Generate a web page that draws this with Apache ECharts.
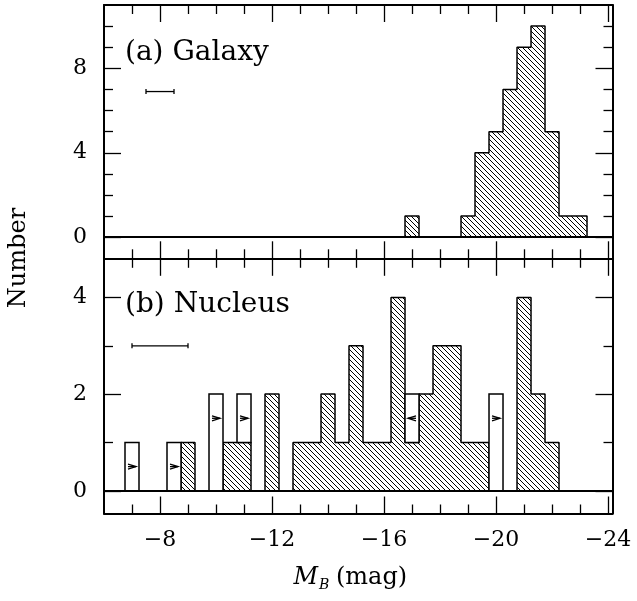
<!DOCTYPE html>
<html><head><meta charset="utf-8">
<script src="https://cdn.jsdelivr.net/npm/echarts@6/dist/echarts.min.js"></script>
<style>html,body{margin:0;padding:0;background:#fff}#c{width:637px;height:601px}</style>
</head><body><div id="c"></div>
<script>
// ---------- data ----------
const binWidth = 0.5;
// (a) Galaxy absolute magnitude histogram: bin centres (mag) and counts
const galaxyMag   = [-17.0, -19.0, -19.5, -20.0, -20.5, -21.0, -21.5, -22.0, -22.5, -23.0];
const galaxyCount = [1, 1, 4, 5, 7, 9, 10, 5, 1, 1];
// (b) Nucleus: detections (hatched) and lower limits (open)
const nucleusMag      = [-7.0, -8.5, -9.0, -10.0, -10.5, -11.0, -12.0, -13.0, -13.5, -14.0, -14.5, -15.0, -15.5, -16.0, -16.5, -17.0, -17.5, -18.0, -18.5, -19.0, -19.5, -20.0, -21.0, -21.5, -22.0];
const nucleusDetected = [0, 0, 1, 0, 1, 1, 2, 1, 1, 2, 1, 3, 1, 1, 4, 1, 2, 3, 3, 1, 1, 0, 4, 2, 1];
const nucleusLimit    = [1, 1, 0, 2, 0, 1, 0, 0, 0, 0, 0, 0, 0, 0, 0, 1, 0, 0, 0, 0, 0, 2, 0, 0, 0];
// limit arrows inside open bins
const arrowMag   = [-7.0, -8.5, -10.0, -11.0, -17.0, -20.0];
const arrowLevel = [0.5, 0.5, 1.5, 1.5, 1.5, 1.5];
const arrowDir   = ['>', '>', '>', '>', '<', '>'];
// typical error bars: [centre, half width, level]
const galaxyErr  = [-8, 0.5, 6.9];
const nucleusErr = [-8, 1.0, 3.0];
// ticks
const xMajorTicks = [-8, -12, -16, -20, -24];
const xMinorTicks = [-7, -9, -10, -11, -13, -14, -15, -17, -18, -19, -21, -22, -23];
const galaxyYMajor = [0, 4, 8];
const galaxyYMinor = [1, 2, 3, 5, 6, 7, 9, 10];
const nucleusYMajor = [0, 2, 4];
const nucleusYMinor = [1, 3];

// ---------- helpers ----------
const FONT = 'DejaVu Serif';
const X_MIN = -24.16, X_MAX = -6;

function hatchCanvas() {
  const c = document.createElement('canvas');
  c.width = 5; c.height = 5;
  const g = c.getContext('2d');
  g.fillStyle = '#000';
  for (let i = 0; i < 5; i++) g.fillRect(i, i, 1, 1);
  return c;
}
const HATCH = { image: hatchCanvas(), repeat: 'repeat' };

function xAxes(grid, labels) {
  const base = { type: 'value', gridIndex: grid, min: X_MIN, max: X_MAX, inverse: true, splitLine: { show: false } };
  const line = { show: true, onZero: false, lineStyle: { color: '#000', width: 2 } };
  const noLine = { show: false, onZero: false };
  const tickStyle = { color: '#000', width: 1.3 };
  const lab = labels ? { show: true, customValues: xMajorTicks, formatter: v => '\u2212' + Math.abs(v), margin: 16, fontFamily: FONT, fontSize: 22, color: '#000' } : { show: false };
  return [
    Object.assign({}, base, { position: 'bottom', axisLine: line, axisTick: { show: true, inside: true, length: 17, customValues: xMajorTicks, lineStyle: tickStyle }, axisLabel: lab }),
    Object.assign({}, base, { position: 'bottom', axisLine: noLine, axisTick: { show: true, inside: true, length: 9, customValues: xMinorTicks, lineStyle: tickStyle }, axisLabel: { show: false } }),
    Object.assign({}, base, { position: 'top', axisLine: line, axisTick: { show: true, inside: true, length: 17, customValues: xMajorTicks, lineStyle: tickStyle }, axisLabel: { show: false } }),
    Object.assign({}, base, { position: 'top', axisLine: noLine, axisTick: { show: true, inside: true, length: 9, customValues: xMinorTicks, lineStyle: tickStyle }, axisLabel: { show: false } })
  ];
}
function yAxes(grid, min, max, major, minor) {
  const base = { type: 'value', gridIndex: grid, min: min, max: max, splitLine: { show: false } };
  const line = { show: true, onZero: false, lineStyle: { color: '#000', width: 2 } };
  const noLine = { show: false, onZero: false };
  const tickStyle = { color: '#000', width: 1.3 };
  return [
    Object.assign({}, base, { position: 'left', axisLine: line, axisTick: { show: true, inside: true, length: 17, customValues: major, lineStyle: tickStyle }, axisLabel: { show: true, customValues: major, margin: 17, fontFamily: FONT, fontSize: 22, color: '#000' } }),
    Object.assign({}, base, { position: 'left', axisLine: noLine, axisTick: { show: true, inside: true, length: 9, customValues: minor, lineStyle: tickStyle }, axisLabel: { show: false } }),
    Object.assign({}, base, { position: 'right', axisLine: line, axisTick: { show: true, inside: true, length: 17, customValues: major, lineStyle: tickStyle }, axisLabel: { show: false } }),
    Object.assign({}, base, { position: 'right', axisLine: noLine, axisTick: { show: true, inside: true, length: 9, customValues: minor, lineStyle: tickStyle }, axisLabel: { show: false } })
  ];
}

function stepOutline(mags, counts) {
  const map = {};
  mags.forEach((m, i) => { map[m.toFixed(2)] = counts[i]; });
  const first = Math.max(...mags), last = Math.min(...mags);
  const pts = [[first + binWidth / 2, 0]];
  for (let c = first; c >= last - 1e-9; c -= binWidth) {
    const h = map[c.toFixed(2)] || 0;
    pts.push([c + binWidth / 2, h]);
  }
  pts.push([last - binWidth / 2, 0]);
  return pts;
}

function fillSeries(xi, yi, mags, counts) {
  return {
    type: 'custom', xAxisIndex: xi, yAxisIndex: yi, z: 2, silent: true,
    data: mags.map((m, i) => [m, counts[i]]).filter(d => d[1] > 0),
    renderItem: function (params, api) {
      const c = api.value(0), h = api.value(1);
      const p0 = api.coord([c + binWidth / 2, h]);
      const p1 = api.coord([c - binWidth / 2, 0]);
      return { type: 'rect', shape: { x: p0[0], y: p0[1], width: p1[0] - p0[0], height: p1[1] - p0[1] }, style: { fill: HATCH, stroke: null } };
    },
    markLine: { silent: true, symbol: ['none', 'none'], label: { show: false }, lineStyle: { color: '#000', width: 2, type: 'solid' }, data: [{ yAxis: 0 }], animation: false }
  };
}
function outlineSeries(xi, yi, mags, counts) {
  return {
    type: 'line', xAxisIndex: xi, yAxisIndex: yi, z: 3, silent: true, step: 'end', showSymbol: false, symbol: 'none',
    lineStyle: { color: '#000', width: 1.5 }, data: stepOutline(mags, counts)
  };
}
function errSeries(xi, yi, e) {
  return {
    type: 'custom', xAxisIndex: xi, yAxisIndex: yi, z: 5, silent: true, data: [e],
    renderItem: function (params, api) {
      const c = api.value(0), hw = api.value(1), y = api.value(2);
      const a = api.coord([c + hw, y]), b = api.coord([c - hw, y]);
      const st = { stroke: '#000', lineWidth: 1.3 };
      return { type: 'group', children: [
        { type: 'line', shape: { x1: a[0], y1: a[1], x2: b[0], y2: b[1] }, style: st },
        { type: 'line', shape: { x1: a[0], y1: a[1] - 2.5, x2: a[0], y2: a[1] + 2.5 }, style: st },
        { type: 'line', shape: { x1: b[0], y1: b[1] - 2.5, x2: b[0], y2: b[1] + 2.5 }, style: st }
      ] };
    }
  };
}

const openData = nucleusMag.map((m, i) => [m, nucleusDetected[i], nucleusDetected[i] + nucleusLimit[i]]).filter(d => d[2] > d[1]);

const option = {
  animation: false,
  backgroundColor: '#fff',
  grid: [
    { left: 104, right: 24.5, top: 5, height: 253.3, containLabel: false },
    { left: 104, right: 24.5, top: 258.8, bottom: 87.5, containLabel: false }
  ],
  xAxis: xAxes(0, false).concat(xAxes(1, true)),
  yAxis: yAxes(0, -1, 11, galaxyYMajor, galaxyYMinor).concat(yAxes(1, -0.47, 4.8, nucleusYMajor, nucleusYMinor)),
  series: [
    fillSeries(0, 0, galaxyMag, galaxyCount),
    outlineSeries(0, 0, galaxyMag, galaxyCount),
    errSeries(0, 0, galaxyErr),
    fillSeries(4, 4, nucleusMag, nucleusDetected),
    outlineSeries(4, 4, nucleusMag, nucleusDetected),
    {
      type: 'custom', xAxisIndex: 4, yAxisIndex: 4, z: 4, silent: true, data: openData,
      renderItem: function (params, api) {
        const c = api.value(0), lo = api.value(1), hi = api.value(2);
        const p0 = api.coord([c + binWidth / 2, hi]);
        const p1 = api.coord([c - binWidth / 2, lo]);
        return { type: 'rect', shape: { x: p0[0], y: p0[1], width: p1[0] - p0[0], height: p1[1] - p0[1] }, style: { fill: '#fff', stroke: '#000', lineWidth: 1.5 } };
      }
    },
    {
      type: 'custom', xAxisIndex: 4, yAxisIndex: 4, z: 6, silent: true,
      data: arrowMag.map((m, i) => [m, arrowLevel[i], arrowDir[i] === '>' ? 1 : -1]),
      renderItem: function (params, api) {
        const p = api.coord([api.value(0), api.value(1)]);
        const d = api.value(2);
        const st = { stroke: '#000', lineWidth: 1.3, fill: null };
        return { type: 'group', x: p[0], y: p[1], children: [
          { type: 'polyline', shape: { points: [[-4 * d, -2.5], [4 * d, 0], [-4 * d, 2.5]] }, style: st },
          { type: 'line', shape: { x1: -4 * d, y1: 0, x2: 4 * d, y2: 0 }, style: st }
        ] };
      }
    },
    errSeries(4, 4, nucleusErr)
  ],
  graphic: [
    { type: 'text', x: 125, y: 53, style: { text: '(a) Galaxy', font: '28px "' + FONT + '"', fill: '#000', textAlign: 'left', verticalAlign: 'middle' } },
    { type: 'text', x: 125, y: 305, style: { text: '(b) Nucleus', font: '28px "' + FONT + '"', fill: '#000', textAlign: 'left', verticalAlign: 'middle' } },
    { type: 'text', x: 19, y: 258, rotation: Math.PI / 2, style: { text: 'Number', font: '24px "' + FONT + '"', fill: '#000', textAlign: 'center', verticalAlign: 'middle' } },
    { type: 'text', x: 318, y: 578, style: { text: 'M', font: 'italic 24px "' + FONT + '"', fill: '#000', textAlign: 'right', verticalAlign: 'middle' } },
    { type: 'text', x: 319, y: 585, style: { text: 'B', font: 'italic 14px "' + FONT + '"', fill: '#000', textAlign: 'left', verticalAlign: 'middle' } },
    { type: 'text', x: 336, y: 578, style: { text: '(mag)', font: '24px "' + FONT + '"', fill: '#000', textAlign: 'left', verticalAlign: 'middle' } }
  ]
};
const chart = echarts.init(document.getElementById('c'), null, { renderer: 'canvas' });
chart.setOption(option);
</script></body></html>
